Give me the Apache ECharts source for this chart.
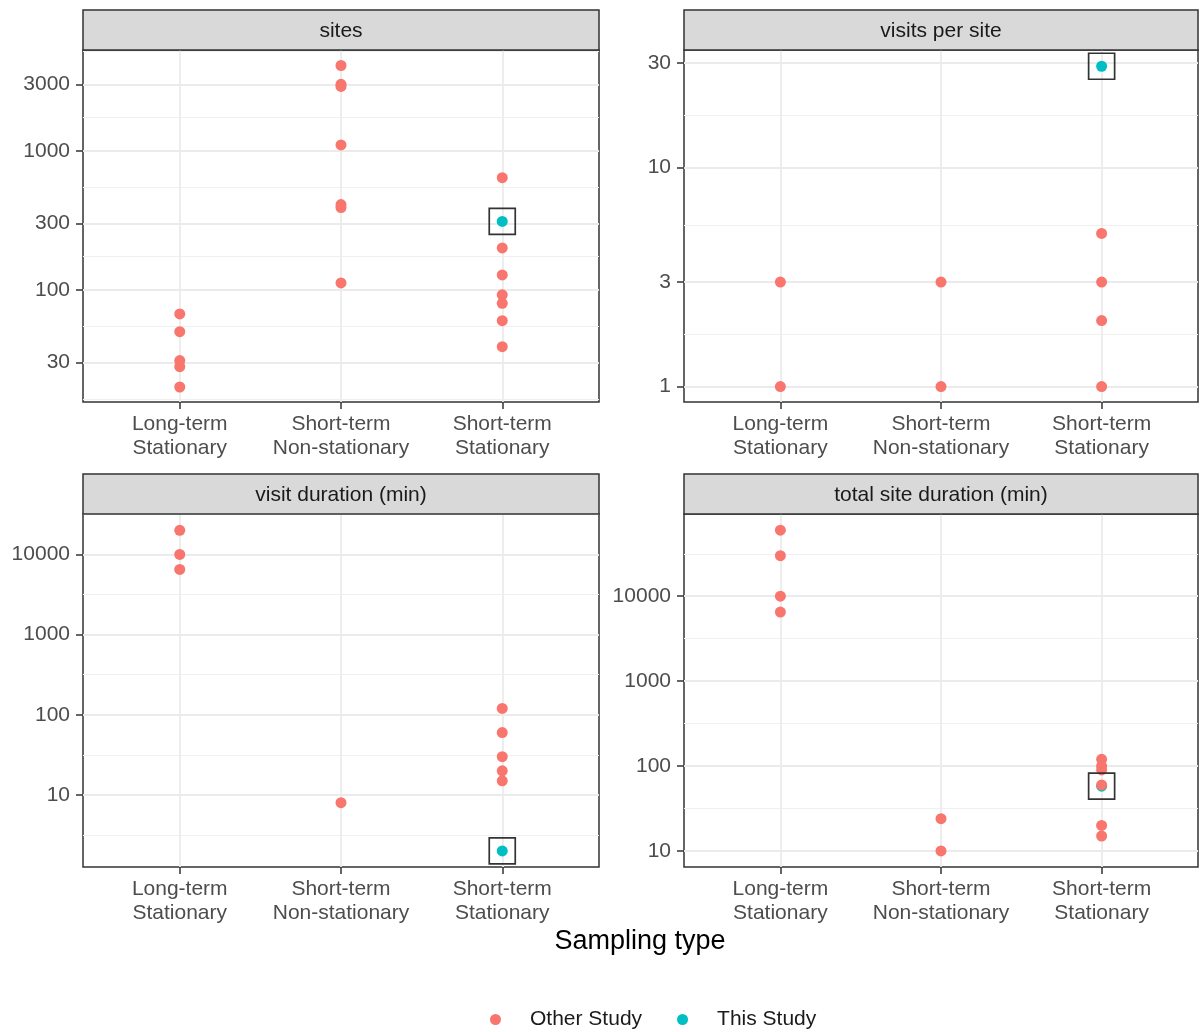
<!DOCTYPE html>
<html>
<head>
<meta charset="utf-8">
<title>Sampling type</title>
<style>
  html, body { margin: 0; padding: 0; background: #fff; }
  #main { width: 1200px; height: 1032px; }
</style>
</head>
<body>
<div id="main"></div>
<script src="https://cdn.jsdelivr.net/npm/echarts@6/dist/echarts.min.js"></script>
<script>
// x categories, shared by all four panels
var categories = ['Long-term\nStationary', 'Short-term\nNon-stationary', 'Short-term\nStationary'];
var panelNames = ['sites', 'visits per site', 'visit duration (min)', 'total site duration (min)'];

// values, one list per category
var sitesOther = [[67, 50, 31, 28, 20], [4100, 3000, 2900, 1100, 410, 390, 112], [640, 200, 128, 92, 80, 60, 39]];
var sitesThis = [[], [], [310]];
var visitsOther = [[3, 1], [3, 1], [5, 3, 2, 1]];
var visitsThis = [[], [], [29]];
var durationOther = [[20000, 10000, 6500], [8], [120, 60, 30, 20, 15]];
var durationThis = [[], [], [2]];
var totalOther = [[60000, 30000, 10000, 6500], [24, 10], [120, 100, 90, 60, 20, 15]];
var totalThis = [[], [], [58]];

// y tick labels of each panel
var sitesTicks = [30, 100, 300, 1000, 3000];
var visitsTicks = [1, 3, 10, 30];
var durationTicks = [10, 100, 1000, 10000];
var totalTicks = [10, 100, 1000, 10000];

// y range of each panel (log axis)
var sitesRange = [15.6, 5300];
var visitsRange = [0.85, 34.4];
var durationRange = [1.26, 32000];
var totalRange = [6.47, 93000];

var otherLists = [sitesOther, visitsOther, durationOther, totalOther];
var thisLists = [sitesThis, visitsThis, durationThis, totalThis];
var tickLists = [sitesTicks, visitsTicks, durationTicks, totalTicks];
var ranges = [sitesRange, visitsRange, durationRange, totalRange];

var FONT = 'Liberation Sans, Arial, sans-serif';
var RED = '#F8766D', CYAN = '#00BFC4';

var layout = [
  {left: 83, top: 50, width: 516, height: 352},
  {left: 684, top: 50, width: 514, height: 352},
  {left: 83, top: 514, width: 516, height: 353},
  {left: 684, top: 514, width: 514, height: 353}
];

function toPoints(lists) {
  var pts = [];
  lists.forEach(function (vals, i) {
    vals.forEach(function (v) { pts.push([i, v]); });
  });
  return pts;
}

// minor grid lines sit half way (in log space) between major ticks
function minorOf(ticks) {
  var n = ticks.length;
  var ext = [ticks[0] * ticks[0] / ticks[1]].concat(ticks, [ticks[n - 1] * ticks[n - 1] / ticks[n - 2]]);
  var out = [];
  for (var i = 0; i < ext.length - 1; i++) out.push(Math.sqrt(ext[i] * ext[i + 1]));
  return out;
}

var grids = [], xAxes = [], yAxes = [], series = [], graphics = [];

for (var p = 0; p < 4; p++) {
  var g = layout[p];
  grids.push({
    left: g.left, top: g.top, width: g.width, height: g.height,
    show: true, backgroundColor: '#fff', borderColor: '#333', borderWidth: 1.5
  });
  xAxes.push({
    type: 'value', gridIndex: p, min: -0.6, max: 2.6, position: 'bottom',
    axisLine: {show: false, onZero: false},
    axisTick: {show: true, customValues: [0, 1, 2], length: 7, lineStyle: {color: '#333', width: 1.5}},
    axisLabel: {
      customValues: [0, 1, 2], margin: 10, fontFamily: FONT, fontSize: 21, lineHeight: 24,
      color: '#4D4D4D', formatter: function (v) { return categories[Math.round(v)]; }
    },
    splitLine: {show: true, lineStyle: {color: '#EBEBEB', width: 1.8}}
  });
  var r = ranges[p];
  yAxes.push({
    type: 'log', gridIndex: p, min: r[0], max: r[1], position: 'left',
    axisLine: {show: false, onZero: false},
    axisTick: {show: true, customValues: tickLists[p], length: 7, lineStyle: {color: '#333', width: 1.5}},
    axisLabel: {
      customValues: tickLists[p], margin: 13, fontFamily: FONT, fontSize: 21, color: '#4D4D4D',
      formatter: function (v) { return String(Math.round(v)); }
    },
    splitLine: {show: true, lineStyle: {color: '#EBEBEB', width: 1.8}},
    z: 1
  });
  // second axis only for the minor grid lines
  yAxes.push({
    type: 'log', gridIndex: p, min: r[0], max: r[1], position: 'left',
    axisLine: {show: false, onZero: false},
    axisTick: {show: false, customValues: minorOf(tickLists[p])},
    axisLabel: {show: false},
    splitLine: {show: true, lineStyle: {color: '#F0F0F0', width: 1}},
    z: 0
  });

  var thisPts = toPoints(thisLists[p]);
  series.push({
    name: 'This Study', type: 'scatter', xAxisIndex: p, yAxisIndex: 2 * p,
    data: thisPts, symbolSize: 11, itemStyle: {color: CYAN, opacity: 1}, z: 3
  });
  series.push({
    name: 'Other Study', type: 'scatter', xAxisIndex: p, yAxisIndex: 2 * p,
    data: toPoints(otherLists[p]), symbolSize: 11, itemStyle: {color: RED, opacity: 1}, z: 4
  });
  series.push({
    name: 'box', type: 'scatter', xAxisIndex: p, yAxisIndex: 2 * p, silent: true,
    data: thisPts, symbol: 'rect', symbolSize: 26,
    itemStyle: {color: 'rgba(0,0,0,0)', borderColor: '#333', borderWidth: 1.7, opacity: 1}, z: 5
  });

  // facet strip
  graphics.push({
    type: 'rect', shape: {x: g.left, y: g.top - 40, width: g.width, height: 40},
    style: {fill: '#D9D9D9', stroke: '#333', lineWidth: 1.5}, z: 10
  });
  graphics.push({
    type: 'text', x: g.left + g.width / 2, y: g.top - 19,
    style: {text: panelNames[p], align: 'center', verticalAlign: 'middle', font: '21px ' + FONT, fill: '#1A1A1A'},
    z: 11
  });
}

graphics.push({
  type: 'text', x: 640, y: 942,
  style: {text: 'Sampling type', align: 'center', verticalAlign: 'middle', font: '27px ' + FONT, fill: '#000'},
  z: 11
});

var chart = echarts.init(document.getElementById('main'));
chart.setOption({
  animation: false,
  backgroundColor: '#fff',
  textStyle: {fontFamily: FONT},
  grid: grids,
  xAxis: xAxes,
  yAxis: yAxes,
  legend: {
    data: ['Other Study', 'This Study'],
    left: 485, top: 1004, icon: 'circle', itemWidth: 11, itemHeight: 11, itemGap: 35,
    textStyle: {fontFamily: FONT, fontSize: 21, color: '#1A1A1A', padding: [0, 0, 0, 24]}
  },
  series: series,
  graphic: graphics
});
</script>
</body>
</html>
